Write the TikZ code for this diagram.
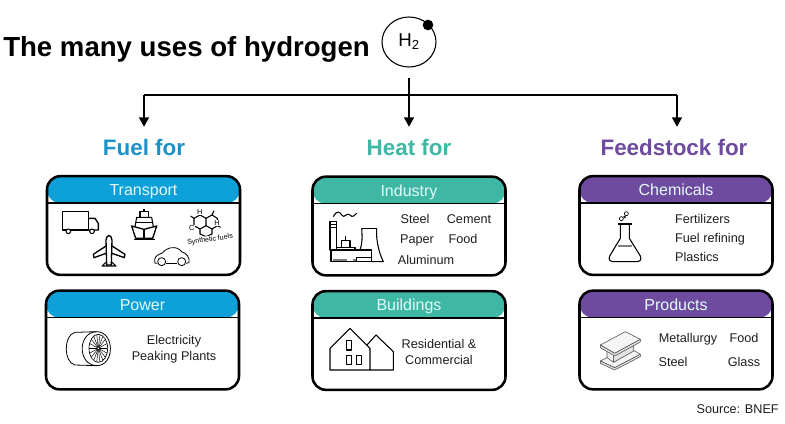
\documentclass[tikz,border=0pt]{standalone}
\usepackage{fontspec}
\setmainfont{Liberation Sans}
\usetikzlibrary{positioning,shapes.geometric,arrows.meta}
\definecolor{FuelBlue}{RGB}{14,160,216}
\definecolor{HeatTeal}{RGB}{62,184,164}
\definecolor{FeedPurple}{RGB}{111,75,160}
\definecolor{FuelHead}{RGB}{28,146,202}
\definecolor{TitleTint}{RGB}{226,250,250}
\definecolor{InkGrey}{RGB}{30,30,30}

\begin{document}
\begin{tikzpicture}[
        x=0.75pt,
        y=-0.75pt,
        cardbox/.style={
            draw=black,
            line width=1.9pt,
            rounded corners=10pt,
            minimum width=144.75pt,
            minimum height=74pt,
            inner sep=0pt,
            path picture={
                \fill[#1] (path picture bounding box.north west) rectangle ([yshift=-20.25pt]path picture bounding box.north east);
                \draw[line width=1.1pt, black] ([yshift=-20.25pt]path picture bounding box.north west) -- ([yshift=-20.25pt]path picture bounding box.north east);
            }
        },
        cardtitle/.style={
            text=TitleTint,
            inner sep=0pt,
            anchor=base,
            font=\fontsize{12}{14}\selectfont
        },
        itemlabel/.style={
            text=InkGrey,
            inner sep=0pt,
            font=\fontsize{9.5}{11.5}\selectfont
        },
        heading/.style={
            minimum height=30pt,
            inner sep=0pt,
            font=\bfseries\fontsize{16.8}{20}\selectfont
        },
        flow/.style={
            -{Triangle[length=7pt,width=7.5pt]},
            line width=1pt,
            black
        },
        icon/.style={
            line width=0.8pt,
            draw=black,
            line join=round
        },
        beamline/.style={
            line width=0.4pt,
            draw=black!70,
            line join=round
        }
    ]
        \useasboundingbox (0,0) rectangle (785,424);
        \fill[white] (0,0) rectangle (785,424);

        % title and molecule
        \node[anchor=west, inner sep=0pt, font=\bfseries\fontsize{20.7}{25}\selectfont] (title) at (3,49) {The many uses of hydrogen};
        \node[draw, ellipse, line width=0.8pt, minimum width=40.5pt, minimum height=37.5pt, inner sep=0pt, font=\fontsize{14}{16}\selectfont] (h2) at (409,42) {H\textsubscript{2}};
        \node[circle, fill=black, minimum size=8pt, inner sep=0pt] (h2dot) at (428,25) {};

        % headings
        \node[heading, text=FuelHead] (fuel) at (144,147) {Fuel for};
        \node[heading, text=HeatTeal] (heat) at (409,147) {Heat for};
        \node[heading, text=FeedPurple] (feed) at (674,147) {Feedstock for};

        % connectors
        \coordinate (busleft) at (144,95);
        \coordinate (busright) at (677,95);
        \draw[line width=1pt] (busleft) -- (busright);
        \draw[flow] (busleft) -- (fuel.north);
        \draw[flow, shorten <=8pt] (h2.south) -- (heat.north);
        \draw[flow] (busright) -- (busright |- feed.north);

        % cards
        \foreach \name/\label/\cx/\cy/\tone in {
            transport/Transport/143.5/225.5/FuelBlue,
            power/Power/142.5/340/FuelBlue,
            industry/Industry/409/226/HeatTeal,
            buildings/Buildings/409/340.5/HeatTeal,
            chemicals/Chemicals/676/225.5/FeedPurple,
            products/Products/676/340/FeedPurple}{
            \node[cardbox=\tone] (\name) at (\cx,\cy) {};
            \node[cardtitle] (\name title) at ([yshift=-15.75pt]\name.north) {\label};
        }

        % card texts
        \node[itemlabel, align=center] (powertext) at (174,349) {Electricity\\[0.4pt]Peaking Plants};
        \node[itemlabel] (steela) at (415,219) {Steel};
        \node[itemlabel] (cement) at (469,219) {Cement};
        \node[itemlabel] (paper) at (417,240) {Paper};
        \node[itemlabel] (fooda) at (463,239) {Food};
        \node[itemlabel] (aluminum) at (426,260) {Aluminum};
        \node[itemlabel, align=center] (buildingtext) at (439,352) {Residential \&\\Commercial};
        \node[itemlabel, align=left] (chemtext) at (710,238) {Fertilizers\\[2.8pt]Fuel refining\\[2.8pt]Plastics};
        \node[itemlabel] (metallurgy) at (688,339) {Metallurgy};
        \node[itemlabel] (foodb) at (744,338) {Food};
        \node[itemlabel] (steelb) at (673,362) {Steel};
        \node[itemlabel] (glass) at (744,362) {Glass};
        \node[itemlabel, anchor=east] (source) at (779,409) {Source: BNEF};

        % transport icons
        \begin{scope}[shift={(40,170)},x=0.25pt,y=-0.25pt]
            \draw[icon, line width=1pt] (68,125) rectangle (145,180);
            \draw[icon, line width=1pt] (145,145) -- (165,145) -- (175,160) -- (175,180) -- (145,180);
            \draw[icon, fill=white] (85,184) circle (7);
            \draw[icon, fill=white] (156,184) circle (7);
            % ship
            \draw[icon, line width=1pt] (275,168) -- (312,178) -- (350,168) -- (338,205) -- (287,205) -- cycle;
            \draw[icon] (285,170) -- (290,142) -- (335,142) -- (340,170);
            \draw[icon] (300,142) -- (300,125) -- (325,125) -- (325,142);
            \draw[icon] (312,178) -- (312,205) (288,158) -- (337,158) (312,125) -- (312,117);
            \draw[icon] (282,208) -- (345,208);
            % plane
            \draw[icon, line width=1pt] (200,285) -- (198,210) .. controls (200,192) and (214,192) .. (216,210) -- (214,285) -- cycle;
            \draw[icon, line width=1pt] (198,228) -- (160,253) -- (162,263) -- (198,250);
            \draw[icon, line width=1pt] (216,228) -- (255,253) -- (253,263) -- (216,250);
            \draw[icon] (200,275) -- (186,288) -- (228,288) -- (214,275);
            % car
            \draw[icon, line width=0.6pt] (352,280) -- (345,280) .. controls (340,262) and (350,255) .. (368,248) .. controls (380,232) and (410,225) .. (425,245) .. controls (440,250) and (450,262) .. (447,278) -- (438,280);
            \draw[icon, line width=0.6pt] (378,280) -- (412,280);
            \draw[icon, line width=0.6pt] (365,275) circle (12);
            \draw[icon, line width=0.6pt] (425,275) circle (12);
            % molecule
            \draw[icon] (480,135) -- (498,145) -- (498,167) -- (480,177) -- (462,167) -- (462,145) -- cycle;
            \draw[icon] (498,145) -- (516,135) -- (532,145) -- (532,167) -- (516,177) -- (498,167);
            \draw[icon] (516,177) -- (516,192) -- (498,200) -- (480,192) -- (480,177);
            \draw[icon] (480,135) -- (475,130) (516,135) -- (522,122) (462,145) -- (452,138) (532,167) -- (542,172);
            \node[font=\fontsize{5.5}{6}\selectfont, fill=white, inner sep=0.4pt] (molh) at (479,125) {H};
            \node[font=\fontsize{5.5}{6}\selectfont, fill=white, inner sep=0.4pt] (molhb) at (531,158) {H};
            \node[font=\fontsize{5.5}{6}\selectfont, fill=white, inner sep=0.4pt] (molc) at (455,175) {C};
            \node[font=\fontsize{5.3}{6}\selectfont, rotate=8, inner sep=0.4pt, fill=white] (synth) at (510,209) {Synthetic fuels};
        \end{scope}

        % wheel icon
        \begin{scope}[shift={(40,285)},x=0.25pt,y=-0.25pt]
            \draw[icon, line width=0.6pt] (105,142) .. controls (70,150) and (70,232) .. (105,240) -- (170,242) .. controls (225,242) and (225,140) .. (170,140) -- cycle;
            \draw[icon, line width=0.6pt] (170,140) .. controls (112,142) and (112,240) .. (170,242);
            \draw[icon, line width=0.5pt] (175,190) ellipse (28 and 42);
            \foreach \spoke in {0,20,...,340}{
                \draw[line width=0.35pt] (175,190) -- ++(\spoke:27 and 41);
            }
            \draw[icon, fill=white, line width=0.5pt] (175,190) circle (5);
        \end{scope}

        % factory icon
        \begin{scope}[shift={(305,170)},x=0.25pt,y=-0.25pt]
            \draw[icon] (85,140) .. controls (95,120) and (105,125) .. (110,135) .. controls (118,148) and (125,125) .. (135,135) .. controls (142,145) and (150,135) .. (155,130);
            \draw[icon] (75,155) rectangle (95,240);
            \draw[icon] (75,163) -- (95,163) (75,172) -- (95,172);
            \draw[icon] (78,240) rectangle (200,275);
            \draw[icon] (155,262) rectangle (200,275);
            \draw[icon] (95,240) -- (95,232) -- (150,232) -- (150,240);
            \draw[icon] (110,232) -- (110,212) -- (135,212) -- (135,232);
            \draw[icon] (122,212) -- (122,198);
            \draw[gray, line width=0.8pt, dash pattern=on 10pt off 5pt] (85,270) -- (152,270);
            \draw[icon] (170,175) -- (215,175);
            \draw[icon] (170,175) .. controls (172,205) and (172,220) .. (165,240);
            \draw[icon] (215,175) .. controls (212,215) and (225,255) .. (235,275) -- (200,275);
        \end{scope}

        % houses icon
        \begin{scope}[shift={(305,285)},x=0.25pt,y=-0.25pt]
            \draw[icon] (75,255) -- (75,190) -- (135,130) -- (195,190) -- (195,255) -- cycle;
            \draw[icon] (186,180) -- (213,150) -- (265,200) -- (265,255) -- (195,255);
            \draw[icon, line width=1pt] (125,167) rectangle (140,195);
            \draw[icon, line width=1pt] (125,212) rectangle (140,238);
            \draw[icon, line width=1pt] (155,212) rectangle (170,238);
        \end{scope}

        % flask icon
        \begin{scope}[shift={(572,170)},x=0.25pt,y=-0.25pt]
            \draw[icon] (138,162) -- (180,162);
            \draw[icon] (145,162) -- (145,205) -- (113,258) .. controls (108,270) and (115,275) .. (125,275) -- (193,275) .. controls (203,275) and (210,270) .. (205,258) -- (172,205) -- (172,162);
            \draw[gray, line width=1pt] (137,228) -- (181,228);
            \draw[icon, line width=0.5pt] (148,146) circle (6);
            \draw[icon, line width=0.5pt] (163,131) circle (6);
            \draw[icon, line width=0.5pt] (158,141) circle (3);
        \end{scope}

        % beam icon
        \begin{scope}[shift={(572,285)},x=0.25pt,y=-0.25pt]
            \draw[beamline, fill=gray!10] (105,195) -- (125,207) -- (125,232) -- (105,222) -- cycle;
            \draw[beamline, fill=gray!22] (125,207) -- (125,232) -- (185,200) -- (185,178) -- cycle;
            \draw[beamline, fill=gray!8] (85,180) -- (160,140) -- (205,163) -- (128,205) -- cycle;
            \draw[beamline, fill=gray!25] (85,180) -- (85,188) -- (128,213) -- (205,171) -- (205,163) -- (128,205) -- cycle;
            \draw[beamline, fill=gray!8] (85,228) -- (105,218) -- (125,232) -- (187,197) -- (205,208) -- (128,248) -- cycle;
            \draw[beamline, fill=gray!25] (85,228) -- (85,235) -- (128,255) -- (205,215) -- (205,208) -- (128,248) -- cycle;
        \end{scope}
    \end{tikzpicture}
\end{document}
